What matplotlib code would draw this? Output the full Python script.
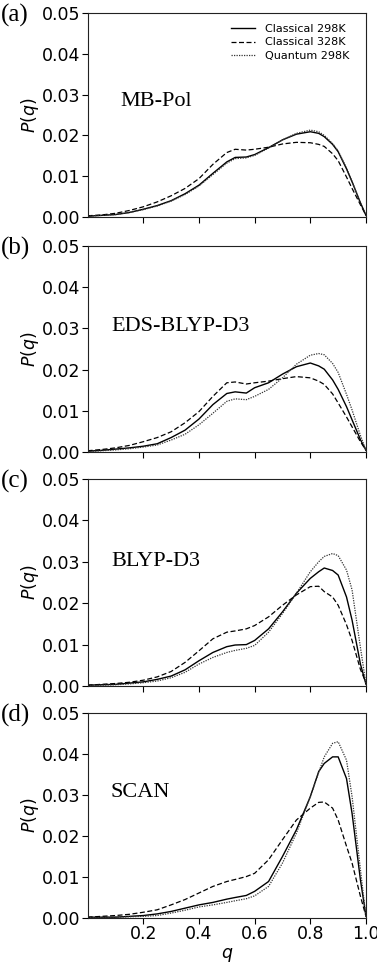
import numpy as np
import matplotlib
matplotlib.use("Agg")
import matplotlib.pyplot as plt


# --- DATA ---
q = [0, 0.05, 0.1, 0.15, 0.2, 0.25, 0.3, 0.35, 0.4, 0.45, 0.5, 0.53, 0.57,
     0.6, 0.65, 0.7, 0.75, 0.8, 0.83, 0.85, 0.88, 0.9, 0.93, 0.95, 0.98, 1.0]

mbpol_c298 = [0.0002, 0.0004, 0.0006, 0.0011, 0.0019, 0.0028, 0.0040, 0.0057, 0.0078,
              0.0107, 0.0135, 0.0146, 0.0147, 0.0153, 0.0170, 0.0189, 0.0203, 0.0209,
              0.0205, 0.0197, 0.0178, 0.0160, 0.0118, 0.0086, 0.0035, 0.0004]
mbpol_c328 = [0.0003, 0.0005, 0.0009, 0.0016, 0.0025, 0.0037, 0.0052, 0.0070, 0.0094,
              0.0129, 0.0158, 0.0166, 0.0164, 0.0166, 0.0171, 0.0179, 0.0183, 0.0182,
              0.0178, 0.0173, 0.0155, 0.0138, 0.0098, 0.0070, 0.0030, 0.0004]
mbpol_q298 = [0.0002, 0.0004, 0.0006, 0.0011, 0.0018, 0.0027, 0.0039, 0.0055, 0.0076,
              0.0104, 0.0132, 0.0143, 0.0145, 0.0151, 0.0169, 0.0189, 0.0205, 0.0213,
              0.0209, 0.0200, 0.0180, 0.0162, 0.0120, 0.0087, 0.0035, 0.0004]

eds_c298 = [0.0002, 0.0004, 0.0007, 0.0010, 0.0014, 0.0020, 0.0035, 0.0053, 0.0080,
            0.0115, 0.0142, 0.0146, 0.0143, 0.0156, 0.0168, 0.0189, 0.0207, 0.0216,
            0.0209, 0.0201, 0.0175, 0.0152, 0.0110, 0.0078, 0.0030, 0.0004]
eds_c328 = [0.0003, 0.0006, 0.0010, 0.0016, 0.0025, 0.0035, 0.0049, 0.0071, 0.0098,
            0.0135, 0.0168, 0.0170, 0.0165, 0.0168, 0.0172, 0.0178, 0.0183, 0.0180,
            0.0172, 0.0164, 0.0141, 0.0119, 0.0085, 0.0061, 0.0025, 0.0004]
eds_q298 = [0.0001, 0.0003, 0.0005, 0.0008, 0.0012, 0.0017, 0.0029, 0.0043, 0.0066,
            0.0094, 0.0123, 0.0129, 0.0127, 0.0135, 0.0152, 0.0180, 0.0213, 0.0235,
            0.0239, 0.0236, 0.0215, 0.0193, 0.0140, 0.0102, 0.0040, 0.0004]

blyp_c298 = [0.0002, 0.0003, 0.0004, 0.0007, 0.0010, 0.0016, 0.0024, 0.0039, 0.0061,
             0.0081, 0.0095, 0.0099, 0.0100, 0.0110, 0.0138, 0.0179, 0.0224, 0.0260,
             0.0276, 0.0285, 0.0279, 0.0268, 0.0215, 0.0159, 0.0053, 0.0004]
blyp_c328 = [0.0002, 0.0004, 0.0006, 0.0009, 0.0014, 0.0022, 0.0035, 0.0057, 0.0085,
             0.0114, 0.0130, 0.0133, 0.0138, 0.0146, 0.0167, 0.0195, 0.0220, 0.0240,
             0.0241, 0.0228, 0.0215, 0.0195, 0.0148, 0.0110, 0.0040, 0.0008]
blyp_q298 = [0.0001, 0.0002, 0.0003, 0.0005, 0.0008, 0.0012, 0.0020, 0.0033, 0.0053,
             0.0069, 0.0081, 0.0086, 0.0091, 0.0098, 0.0130, 0.0175, 0.0224, 0.0276,
             0.0300, 0.0313, 0.0320, 0.0315, 0.0280, 0.0232, 0.0093, 0.0004]

scan_c298 = [0.0002, 0.0002, 0.0002, 0.0004, 0.0006, 0.0010, 0.0016, 0.0024, 0.0032,
             0.0038, 0.0046, 0.0050, 0.0055, 0.0065, 0.0089, 0.0150, 0.0215, 0.0296,
             0.0357, 0.0377, 0.0393, 0.0393, 0.0340, 0.0255, 0.0093, 0.0004]
scan_c328 = [0.0002, 0.0004, 0.0006, 0.0009, 0.0014, 0.0020, 0.0032, 0.0045, 0.0061,
             0.0077, 0.0089, 0.0094, 0.0101, 0.0109, 0.0142, 0.0191, 0.0239, 0.0268,
             0.0282, 0.0283, 0.0268, 0.0239, 0.0175, 0.0134, 0.0053, 0.0004]
scan_q298 = [0.0001, 0.0001, 0.0002, 0.0003, 0.0004, 0.0006, 0.0012, 0.0019, 0.0027,
             0.0032, 0.0038, 0.0042, 0.0047, 0.0054, 0.0077, 0.0134, 0.0207, 0.0296,
             0.0355, 0.0393, 0.0426, 0.0430, 0.0385, 0.0296, 0.0118, 0.0002]

panel_tags = ["(a)", "(b)", "(c)", "(d)"]
methods = ["MB-Pol", "EDS-BLYP-D3", "BLYP-D3", "SCAN"]
series_names = ["Classical 298K", "Classical 328K", "Quantum 298K"]
panel_data = [
    (mbpol_c298, mbpol_c328, mbpol_q298),
    (eds_c298, eds_c328, eds_q298),
    (blyp_c298, blyp_c328, blyp_q298),
    (scan_c298, scan_c328, scan_q298),
]
yticks = [0.0, 0.01, 0.02, 0.03, 0.04, 0.05]
xticks = [0.2, 0.4, 0.6, 0.8, 1.0]

# --- LAYOUT ---
W, H = 377, 964
fig = plt.figure(figsize=(W / 100, H / 100), dpi=100)

left = 87.6 / W
width = (366 - 87.6) / W
# (top, bottom) pixel rows of each panel
rows = [(13, 217), (246, 452), (479, 686), (713, 918)]
# where the method name sits inside each panel (axes fraction)
label_pos = [(0.116, 0.565), (0.084, 0.61), (0.084, 0.60), (0.082, 0.61)]

styles = [
    dict(color="black", linestyle="-", linewidth=1.0),
    dict(color="black", linestyle=(0, (4, 2)), linewidth=0.9),
    dict(color="#333333", linestyle=(0, (1, 1)), linewidth=0.9),
]

serif = ["Liberation Serif", "DejaVu Serif"]

for i, (top, bot) in enumerate(rows):
    ax = fig.add_axes([left, 1 - bot / H, width, (bot - top) / H])
    for ys, name, st in zip(panel_data[i], series_names, styles):
        ax.plot(q, ys, label=name, **st)

    ax.set_xlim(0, 1)
    ax.set_ylim(0, 0.05)
    ax.set_xticks(xticks)
    ax.set_yticks(yticks)
    ax.set_yticklabels([f"{v:.2f}" for v in yticks], fontsize=12.5)
    ax.tick_params(direction="out", length=4, width=0.8, pad=1)
    for sp in ax.spines.values():
        sp.set_linewidth(0.8)
        sp.set_color("#222222")

    if i == 3:
        ax.set_xticklabels([f"{v:.1f}" for v in xticks], fontsize=12.5)
        ax.set_xlabel("$q$", fontsize=12.5, labelpad=2)
    else:
        ax.set_xticklabels([])

    ax.set_ylabel("$P(q)$", fontsize=12.5, labelpad=1)

    ax.text(label_pos[i][0], label_pos[i][1], methods[i], transform=ax.transAxes,
            fontsize=16, family=serif, va="center", ha="left")
    fig.text(1 / W, 1 - (top + 2) / H, panel_tags[i], fontsize=18, family=serif,
             va="center", ha="left")

    if i == 0:
        ax.legend(loc="upper right", bbox_to_anchor=(0.958, 0.97), frameon=False,
                  fontsize=8, handlelength=2.2, handletextpad=0.9,
                  labelspacing=0.35, borderaxespad=0)

fig.savefig("out.png", dpi=100)
